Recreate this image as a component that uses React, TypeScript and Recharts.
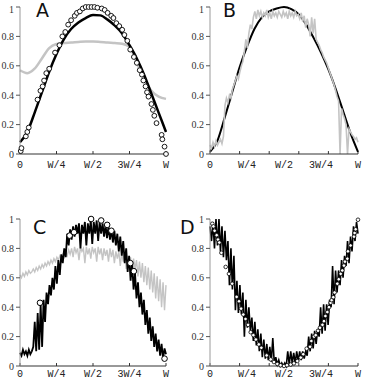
import React from "react";
import { ComposedChart, Line, Scatter, XAxis, YAxis, ReferenceLine } from "recharts";

// shared axis ticks
const xTicks = [0, 0.25, 0.5, 0.75, 1];
const xTickNames = ["0", "W/4", "W/2", "3W/4", "W"];
const yTicks = [0, 0.2, 0.4, 0.6, 0.8, 1];
const yTickNames = ["0", "0.2", "0.4", "0.6", "0.8", "1"];
const quarterMarks = [0, 0.25, 0.5, 0.75, 1];
const fifthMarks = [0, 0.2, 0.4, 0.6, 0.8, 1];

// smooth curves sampled every W/20
const grid20 = [0, 0.05, 0.1, 0.15, 0.2, 0.25, 0.3, 0.35, 0.4, 0.45, 0.5, 0.55, 0.6, 0.65, 0.7, 0.75, 0.8, 0.85, 0.9, 0.95, 1];

// panel A
const aBlack = [0.08, 0.15, 0.28, 0.42, 0.56, 0.68, 0.78, 0.85, 0.895, 0.925, 0.945, 0.943, 0.914, 0.873, 0.82, 0.74, 0.65, 0.54, 0.41, 0.28, 0.15];
const aGray = [0.57, 0.55, 0.58, 0.65, 0.72, 0.748, 0.755, 0.758, 0.762, 0.765, 0.765, 0.762, 0.758, 0.755, 0.75, 0.73, 0.62, 0.51, 0.43, 0.39, 0.375];
const aDotX = [0.005, 0.01, 0.04, 0.05, 0.06, 0.12, 0.14, 0.155, 0.165, 0.18, 0.2, 0.24, 0.27, 0.29, 0.31, 0.33, 0.35, 0.375, 0.39, 0.41, 0.43, 0.45, 0.47, 0.49, 0.51, 0.53, 0.56, 0.58, 0.6, 0.625, 0.64, 0.66, 0.68, 0.7, 0.715, 0.735, 0.755, 0.78, 0.8, 0.82, 0.835, 0.845, 0.86, 0.87, 0.88, 0.9, 0.91, 0.92, 0.935, 0.97, 0.975, 0.99, 1.0];
const aDotY = [0.02, 0.04, 0.12, 0.15, 0.18, 0.37, 0.43, 0.46, 0.5, 0.55, 0.58, 0.69, 0.74, 0.8, 0.83, 0.88, 0.91, 0.94, 0.96, 0.97, 0.99, 1.0, 1.0, 1.0, 1.0, 0.995, 0.99, 0.98, 0.96, 0.94, 0.925, 0.89, 0.87, 0.845, 0.81, 0.77, 0.71, 0.66, 0.62, 0.57, 0.54, 0.5, 0.46, 0.42, 0.39, 0.34, 0.3, 0.26, 0.21, 0.13, 0.1, 0.05, 0.0];

// panel B
const bBlack = [0.015, 0.09, 0.25, 0.42, 0.59, 0.73, 0.85, 0.93, 0.97, 0.99, 1.0, 0.985, 0.95, 0.88, 0.79, 0.69, 0.575, 0.44, 0.29, 0.14, 0.015];
const bGray = [
  0.06, 0.04, 0.08, 0.05, 0.09, 0.06, 0.08, 0.1, 0.07, 0.12,
  0.33, 0.38, 0.35, 0.4, 0.38, 0.44, 0.47, 0.5, 0.53, 0.51,
  0.56, 0.6, 0.63, 0.7, 0.78, 0.72, 0.82, 0.88, 0.85, 0.93,
  0.97, 0.92, 0.98, 0.94, 0.97, 0.93, 0.96, 0.94, 0.98, 0.93,
  0.96, 0.92, 0.97, 0.94, 0.96, 0.93, 0.97, 0.95, 0.93, 0.97,
  0.94, 0.96, 0.92, 0.97, 0.94, 0.96, 0.93, 0.97, 0.94, 0.95,
  0.92, 0.96, 0.9, 0.94, 0.86, 0.92, 0.88, 0.8, 0.93, 0.82,
  0.92, 0.78, 0.76, 0.74, 0.71, 0.69, 0.66, 0.64, 0.62, 0.59,
  0.56, 0.53, 0.5, 0.47, 0.43, 0.39, 0.36, 0.0, 0.31, 0.27,
  0.24, 0.2, 0.0, 0.17, 0.15, 0.13, 0.12, 0.1, 0.11, 0.08,
];

// panel C
const cBlack = [
  0.09, 0.07, 0.11, 0.08, 0.1, 0.07, 0.11, 0.08, 0.1, 0.13,
  0.3, 0.1, 0.36, 0.11, 0.42, 0.13, 0.45, 0.3, 0.5, 0.42,
  0.55, 0.48, 0.6, 0.52, 0.68, 0.56, 0.72, 0.62, 0.76, 0.7,
  0.8, 0.74, 0.9, 0.82, 0.93, 0.86, 0.95, 0.88, 0.96, 0.9,
  0.97, 0.8, 0.96, 0.9, 0.98, 0.82, 0.97, 0.9, 0.99, 0.83,
  0.98, 0.9, 0.99, 0.85, 0.98, 0.9, 0.97, 0.88, 0.96, 0.87,
  0.95, 0.86, 0.93, 0.84, 0.92, 0.82, 0.9, 0.78, 0.88, 0.75,
  0.85, 0.7, 0.8, 0.64, 0.75, 0.58, 0.7, 0.52, 0.63, 0.46,
  0.57, 0.4, 0.5, 0.35, 0.45, 0.28, 0.38, 0.22, 0.33, 0.17,
  0.27, 0.13, 0.22, 0.1, 0.18, 0.07, 0.15, 0.05, 0.12, 0.08,
];
const cGray = [
  0.62, 0.6, 0.63, 0.61, 0.64, 0.62, 0.65, 0.63, 0.64, 0.66,
  0.64, 0.67, 0.65, 0.68, 0.66, 0.69, 0.67, 0.7, 0.68, 0.71,
  0.69, 0.72, 0.7, 0.73, 0.71, 0.74, 0.72, 0.75, 0.73, 0.76,
  0.74, 0.77, 0.75, 0.79, 0.76, 0.8, 0.74, 0.81, 0.77, 0.8,
  0.72, 0.81, 0.78, 0.8, 0.7, 0.81, 0.76, 0.8, 0.73, 0.81,
  0.77, 0.8, 0.71, 0.81, 0.76, 0.8, 0.72, 0.8, 0.75, 0.79,
  0.71, 0.8, 0.74, 0.79, 0.7, 0.78, 0.73, 0.78, 0.68, 0.77,
  0.71, 0.76, 0.66, 0.75, 0.69, 0.74, 0.63, 0.73, 0.66, 0.72,
  0.61, 0.71, 0.6, 0.7, 0.57, 0.68, 0.55, 0.67, 0.52, 0.65,
  0.5, 0.63, 0.46, 0.61, 0.44, 0.59, 0.4, 0.57, 0.38, 0.55,
];
const cDotX = [0.137, 0.34, 0.37, 0.487, 0.556, 0.597, 0.626, 0.756, 0.78, 0.99];
const cDotY = [0.43, 0.887, 0.91, 1.0, 0.99, 0.96, 0.92, 0.7, 0.645, 0.05];

// panel D
const dBlack = [
  0.95, 0.85, 0.98, 0.8, 1.0, 0.82, 1.0, 0.78, 0.95, 0.74,
  0.92, 0.72, 0.85, 0.55, 0.8, 0.52, 0.75, 0.38, 0.58, 0.36,
  0.55, 0.35, 0.5, 0.2, 0.45, 0.26, 0.4, 0.24, 0.33, 0.17,
  0.3, 0.14, 0.25, 0.1, 0.22, 0.06, 0.18, 0.05, 0.15, 0.04,
  0.13, 0.03, 0.19, 0.02, 0.06, 0.01, 0.04, 0.0, 0.02, 0.0,
  0.02, 0.0, 0.1, 0.01, 0.1, 0.02, 0.09, 0.02, 0.1, 0.03,
  0.1, 0.04, 0.1, 0.05, 0.1, 0.07, 0.2, 0.1, 0.22, 0.12,
  0.24, 0.15, 0.25, 0.2, 0.4, 0.22, 0.42, 0.24, 0.42, 0.28,
  0.45, 0.4, 0.68, 0.42, 0.65, 0.5, 0.65, 0.55, 0.72, 0.6,
  0.75, 0.68, 0.85, 0.7, 0.88, 0.78, 0.95, 0.85, 0.98, 0.9,
];
const dDotX = [0.016, 0.023, 0.031, 0.045, 0.054, 0.063, 0.077, 0.106, 0.128, 0.15, 0.18, 0.196, 0.21, 0.225, 0.24, 0.257, 0.275, 0.293, 0.31, 0.33, 0.347, 0.383, 0.41, 0.432, 0.455, 0.477, 0.5, 0.52, 0.545, 0.567, 0.59, 0.613, 0.63, 0.653, 0.676, 0.685, 0.703, 0.714, 0.73, 0.743, 0.76, 0.77, 0.78, 0.793, 0.804, 0.815, 0.822, 0.833, 0.842, 0.86, 0.87, 0.883, 0.894, 0.905, 0.912, 0.928, 0.932, 0.95, 0.973, 0.977, 0.984, 1.0];
const dDotY = [0.968, 0.95, 0.92, 0.89, 0.86, 0.84, 0.77, 0.674, 0.627, 0.56, 0.47, 0.44, 0.39, 0.35, 0.32, 0.28, 0.23, 0.21, 0.18, 0.147, 0.124, 0.072, 0.045, 0.027, 0.014, 0.005, 0, 0.005, 0.01, 0.018, 0.034, 0.057, 0.08, 0.118, 0.131, 0.17, 0.2, 0.21, 0.24, 0.26, 0.28, 0.305, 0.34, 0.367, 0.4, 0.43, 0.448, 0.468, 0.5, 0.56, 0.59, 0.627, 0.65, 0.683, 0.71, 0.73, 0.78, 0.82, 0.88, 0.905, 0.93, 0.995];

const zip = (xs: number[], ys: number[]) => xs.map((x, i) => ({ x, y: ys[i] }));
// evenly spaced samples across 0..W
const sampled = (ys: number[]) => ys.map((y, i) => ({ x: i / (ys.length - 1), y }));

const GRAY = "#c4c4c4";
const W = 184;
const H = 193;

const ring = (r: number, sw: number) => (p: any) => (
  <circle cx={p.cx} cy={p.cy} r={r} fill="#fff" stroke="#000" strokeWidth={sw} />
);

type PanelProps = {
  left: number;
  top: number;
  margin: { top: number; right: number; bottom: number; left: number };
  letter: string;
  letterX: number;
  letterY: number;
  marks: number[];
  labelDy: number;
  children: React.ReactNode;
};

function Panel({ left, top, margin, letter, letterX, letterY, marks, labelDy, children }: PanelProps) {
  return (
    <div style={{ position: "absolute", left, top, width: W, height: H }}>
      <ComposedChart width={W} height={H} margin={margin}>
        <XAxis
          type="number"
          dataKey="x"
          domain={[0, 1]}
          ticks={xTicks}
          height={20}
          tickSize={0}
          tickMargin={0}
          tickLine={false}
          axisLine={{ stroke: "#333" }}
          tick={(p: any) => (
            <text
              x={p.x}
              y={p.y + labelDy}
              textAnchor="middle"
              fontFamily="Liberation Mono"
              fontSize={10}
              fill="#222"
            >
              {xTickNames[xTicks.indexOf(p.payload.value)]}
            </text>
          )}
        />
        <YAxis
          type="number"
          dataKey="y"
          domain={[0, 1]}
          ticks={yTicks}
          width={20}
          tickSize={4}
          tickMargin={2}
          axisLine={{ stroke: "#9a9a9a" }}
          tickLine={{ stroke: "#555" }}
          tick={(p: any) => (
            <text
              x={p.x}
              y={p.y + 3.5}
              textAnchor="end"
              fontFamily="Liberation Serif"
              fontSize={10}
              fill="#333"
            >
              {yTickNames[yTicks.indexOf(p.payload.value)]}
            </text>
          )}
        />
        {marks.map((m) => (
          <ReferenceLine
            key={m}
            segment={[{ x: m, y: 0 }, { x: m, y: 0.02 }]}
            stroke="#333"
          />
        ))}
        {children}
      </ComposedChart>
      <span
        style={{
          position: "absolute",
          left: letterX,
          top: letterY,
          fontFamily: "DejaVu Sans",
          fontSize: 19,
          lineHeight: "19px",
          color: "#111",
        }}
      >
        {letter}
      </span>
    </div>
  );
}

export default function App() {
  return (
    <div style={{ position: "absolute", left: 0, top: 0, width: 368, height: 386, background: "#fff" }}>
      <Panel left={0} top={0} margin={{ top: 7, right: 18, bottom: 19, left: 0 }} letter="A" letterX={36} letterY={1} marks={quarterMarks} labelDy={14}>
        <Line data={zip(grid20, aGray)} dataKey="y" type="monotone" stroke={GRAY} strokeWidth={2.5} dot={false} isAnimationActive={false} />
        <Line data={zip(grid20, aBlack)} dataKey="y" type="monotone" stroke="#000" strokeWidth={2.5} dot={false} isAnimationActive={false} />
        <Scatter data={zip(aDotX, aDotY)} dataKey="y" shape={ring(2.4, 0.9)} isAnimationActive={false} />
      </Panel>
      <Panel left={184} top={0} margin={{ top: 7, right: 10, bottom: 19, left: 6 }} letter="B" letterX={39} letterY={1} marks={fifthMarks} labelDy={14}>
        <Line data={zip(grid20, bBlack)} dataKey="y" type="monotone" stroke="#000" strokeWidth={2} dot={false} isAnimationActive={false} />
        <Line data={sampled(bGray)} dataKey="y" type="linear" stroke={GRAY} strokeWidth={1.6} dot={false} isAnimationActive={false} />
      </Panel>
      <Panel left={0} top={193} margin={{ top: 26, right: 18, bottom: 0, left: 0 }} letter="C" letterX={33} letterY={25} marks={quarterMarks} labelDy={11}>
        <Line data={sampled(cGray)} dataKey="y" type="linear" stroke={GRAY} strokeWidth={1.4} dot={false} isAnimationActive={false} />
        <Line data={sampled(cBlack)} dataKey="y" type="linear" stroke="#000" strokeWidth={1.8} dot={false} isAnimationActive={false} />
        <Scatter data={zip(cDotX, cDotY)} dataKey="y" shape={ring(2.8, 1)} isAnimationActive={false} />
      </Panel>
      <Panel left={184} top={193} margin={{ top: 26, right: 10, bottom: 0, left: 6 }} letter="D" letterX={-4} letterY={25} marks={fifthMarks} labelDy={11}>
        <Line data={sampled(dBlack)} dataKey="y" type="linear" stroke="#000" strokeWidth={1.6} dot={false} isAnimationActive={false} />
        <Scatter data={zip(dDotX, dDotY)} dataKey="y" shape={ring(1.8, 0.8)} isAnimationActive={false} />
      </Panel>
    </div>
  );
}
